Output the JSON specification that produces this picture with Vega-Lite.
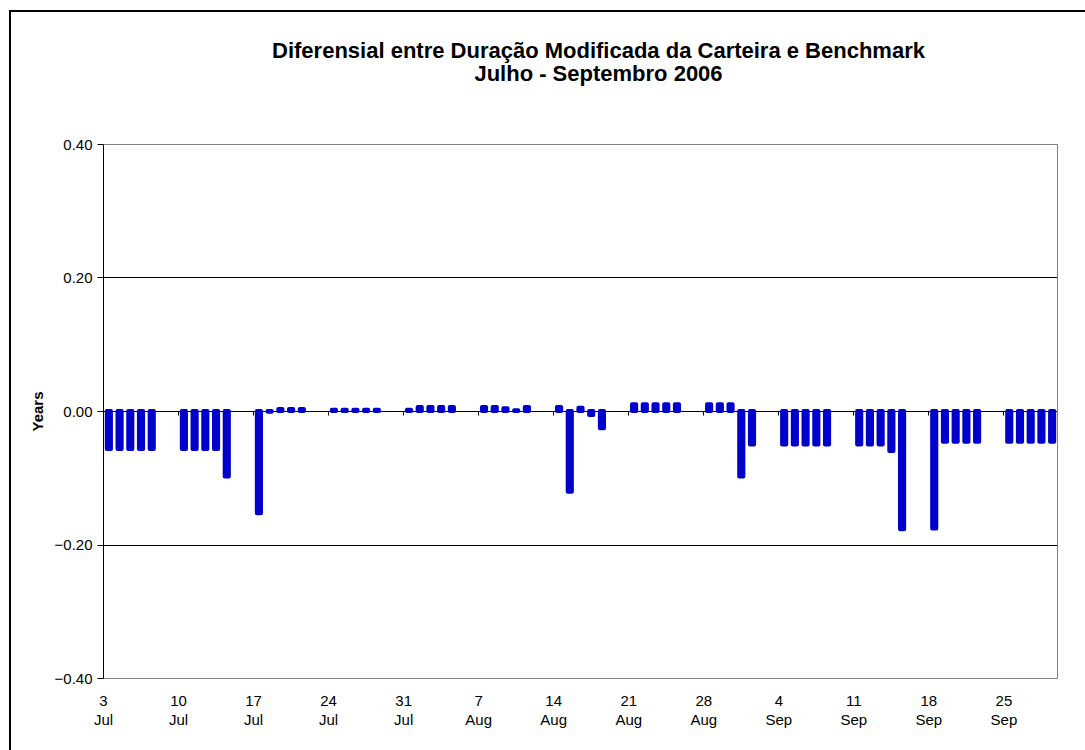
{
  "$schema": "https://vega.github.io/schema/vega-lite/v6.json",
  "width": 1085,
  "height": 750,
  "autosize": "none",
  "padding": {"left": 10, "top": 11, "right": 0, "bottom": 0},
  "background": "white",
  "config": {
    "font": "Liberation Sans",
    "view": {"stroke": "#000000", "strokeWidth": 2}
  },
  "title": {
    "text": ["Diferensial entre Duração Modificada da Carteira e Benchmark", "Julho - Septembro 2006"],
    "font": "Liberation Sans",
    "fontSize": 22,
    "fontWeight": "bold",
    "color": "#000000",
    "anchor": "middle",
    "frame": "group",
    "baseline": "top",
    "lineHeight": 23,
    "dx": 46,
    "offset": -75
  },
  "data": {
    "values": [
      {"date": "2006-07-03", "diff": -0.057},
      {"date": "2006-07-04", "diff": -0.057},
      {"date": "2006-07-05", "diff": -0.057},
      {"date": "2006-07-06", "diff": -0.057},
      {"date": "2006-07-07", "diff": -0.057},
      {"date": "2006-07-10", "diff": -0.057},
      {"date": "2006-07-11", "diff": -0.057},
      {"date": "2006-07-12", "diff": -0.057},
      {"date": "2006-07-13", "diff": -0.057},
      {"date": "2006-07-14", "diff": -0.098},
      {"date": "2006-07-17", "diff": -0.153},
      {"date": "2006-07-18", "diff": -0.001},
      {"date": "2006-07-19", "diff": 0.003},
      {"date": "2006-07-20", "diff": 0.003},
      {"date": "2006-07-21", "diff": 0.003},
      {"date": "2006-07-24", "diff": 0.002},
      {"date": "2006-07-25", "diff": 0.002},
      {"date": "2006-07-26", "diff": 0.002},
      {"date": "2006-07-27", "diff": 0.002},
      {"date": "2006-07-28", "diff": 0.002},
      {"date": "2006-07-31", "diff": 0.002},
      {"date": "2006-08-01", "diff": 0.006},
      {"date": "2006-08-02", "diff": 0.006},
      {"date": "2006-08-03", "diff": 0.006},
      {"date": "2006-08-04", "diff": 0.006},
      {"date": "2006-08-07", "diff": 0.006},
      {"date": "2006-08-08", "diff": 0.006},
      {"date": "2006-08-09", "diff": 0.004},
      {"date": "2006-08-10", "diff": 0.001},
      {"date": "2006-08-11", "diff": 0.006},
      {"date": "2006-08-14", "diff": 0.006},
      {"date": "2006-08-15", "diff": -0.121},
      {"date": "2006-08-16", "diff": 0.005},
      {"date": "2006-08-17", "diff": -0.006},
      {"date": "2006-08-18", "diff": -0.026},
      {"date": "2006-08-21", "diff": 0.01},
      {"date": "2006-08-22", "diff": 0.01},
      {"date": "2006-08-23", "diff": 0.01},
      {"date": "2006-08-24", "diff": 0.01},
      {"date": "2006-08-25", "diff": 0.01},
      {"date": "2006-08-28", "diff": 0.01},
      {"date": "2006-08-29", "diff": 0.01},
      {"date": "2006-08-30", "diff": 0.01},
      {"date": "2006-08-31", "diff": -0.098},
      {"date": "2006-09-01", "diff": -0.05},
      {"date": "2006-09-04", "diff": -0.05},
      {"date": "2006-09-05", "diff": -0.05},
      {"date": "2006-09-06", "diff": -0.05},
      {"date": "2006-09-07", "diff": -0.05},
      {"date": "2006-09-08", "diff": -0.05},
      {"date": "2006-09-11", "diff": -0.05},
      {"date": "2006-09-12", "diff": -0.05},
      {"date": "2006-09-13", "diff": -0.05},
      {"date": "2006-09-14", "diff": -0.06},
      {"date": "2006-09-15", "diff": -0.177},
      {"date": "2006-09-18", "diff": -0.176},
      {"date": "2006-09-19", "diff": -0.046},
      {"date": "2006-09-20", "diff": -0.046},
      {"date": "2006-09-21", "diff": -0.046},
      {"date": "2006-09-22", "diff": -0.046},
      {"date": "2006-09-25", "diff": -0.046},
      {"date": "2006-09-26", "diff": -0.046},
      {"date": "2006-09-27", "diff": -0.046},
      {"date": "2006-09-28", "diff": -0.046},
      {"date": "2006-09-29", "diff": -0.046}
    ]
  },
  "layer": [
    {
      "mark": {"type": "bar", "fill": "#0000CC", "stroke": "#0000CC", "strokeWidth": 4, "strokeJoin": "round", "width": {"band": 0.48}},
      "encoding": {
        "x": {
          "field": "date",
          "type": "temporal",
          "timeUnit": "utcyearmonthdate",
          "scale": {
            "type": "utc",
            "domain": [{"year": 2006, "month": 7, "date": 3, "utc": true}, {"year": 2006, "month": 9, "date": 30, "utc": true}],
            "range": [93, 1047]
          },
          "axis": {
            "orient": "bottom",
            "offset": -350,
            "values": [
              {"year": 2006, "month": 7, "date": 3, "utc": true},
              {"year": 2006, "month": 7, "date": 10, "utc": true},
              {"year": 2006, "month": 7, "date": 17, "utc": true},
              {"year": 2006, "month": 7, "date": 24, "utc": true},
              {"year": 2006, "month": 7, "date": 31, "utc": true},
              {"year": 2006, "month": 8, "date": 7, "utc": true},
              {"year": 2006, "month": 8, "date": 14, "utc": true},
              {"year": 2006, "month": 8, "date": 21, "utc": true},
              {"year": 2006, "month": 8, "date": 28, "utc": true},
              {"year": 2006, "month": 9, "date": 4, "utc": true},
              {"year": 2006, "month": 9, "date": 11, "utc": true},
              {"year": 2006, "month": 9, "date": 18, "utc": true},
              {"year": 2006, "month": 9, "date": 25, "utc": true}
            ],
            "labels": false,
            "ticks": true,
            "tickSize": 4,
            "tickColor": "#000000",
            "domain": true,
            "domainColor": "#000000",
            "grid": false,
            "title": null
          }
        },
        "y": {
          "field": "diff",
          "type": "quantitative",
          "scale": {"domain": [-0.4, 0.4], "range": [667, 133], "nice": false, "zero": false},
          "axis": {
            "orient": "left",
            "offset": -93,
            "values": [-0.4, -0.2, 0, 0.2, 0.4],
            "format": ".2f",
            "title": "Years",
            "titleFont": "Liberation Sans",
            "titleFontSize": 15,
            "titleFontWeight": "bold",
            "titleColor": "#000000",
            "titlePadding": 9,
            "labelFont": "Liberation Sans",
            "labelFontSize": 15,
            "labelColor": "#000000",
            "labelPadding": 5,
            "tickSize": 6,
            "tickColor": "#000000",
            "domainColor": "#000000",
            "domainWidth": 1,
            "grid": true,
            "gridWidth": 1,
            "gridColor": {"condition": {"test": "abs(datum.value) > 0.3", "value": "#808080"}, "value": "#000000"}
          }
        }
      }
    },
    {
      "mark": {"type": "bar", "opacity": 0, "width": {"band": 0.48}},
      "encoding": {
        "x": {
          "field": "date",
          "type": "temporal",
          "timeUnit": "utcyearmonthdate",
          "axis": {
            "orient": "bottom",
            "offset": -83,
            "values": [
              {"year": 2006, "month": 7, "date": 3, "utc": true},
              {"year": 2006, "month": 7, "date": 10, "utc": true},
              {"year": 2006, "month": 7, "date": 17, "utc": true},
              {"year": 2006, "month": 7, "date": 24, "utc": true},
              {"year": 2006, "month": 7, "date": 31, "utc": true},
              {"year": 2006, "month": 8, "date": 7, "utc": true},
              {"year": 2006, "month": 8, "date": 14, "utc": true},
              {"year": 2006, "month": 8, "date": 21, "utc": true},
              {"year": 2006, "month": 8, "date": 28, "utc": true},
              {"year": 2006, "month": 9, "date": 4, "utc": true},
              {"year": 2006, "month": 9, "date": 11, "utc": true},
              {"year": 2006, "month": 9, "date": 18, "utc": true},
              {"year": 2006, "month": 9, "date": 25, "utc": true}
            ],
            "labelExpr": "[utcFormat(datum.value, '%-d'), utcFormat(datum.value, '%b')]",
            "labelFont": "Liberation Sans",
            "labelFontSize": 15,
            "labelColor": "#000000",
            "labelPadding": 15,
            "labelLineHeight": 19,
            "labelFlush": false,
            "labelOverlap": false,
            "labelBound": false,
            "ticks": false,
            "domain": false,
            "grid": false,
            "title": null
          }
        },
        "y": {
          "field": "diff",
          "type": "quantitative",
          "axis": {
            "orient": "right",
            "offset": -38,
            "labels": false,
            "ticks": false,
            "grid": false,
            "domain": true,
            "domainColor": "#808080",
            "domainWidth": 1,
            "title": null
          }
        }
      }
    }
  ],
  "resolve": {"axis": {"x": "independent", "y": "independent"}}
}
